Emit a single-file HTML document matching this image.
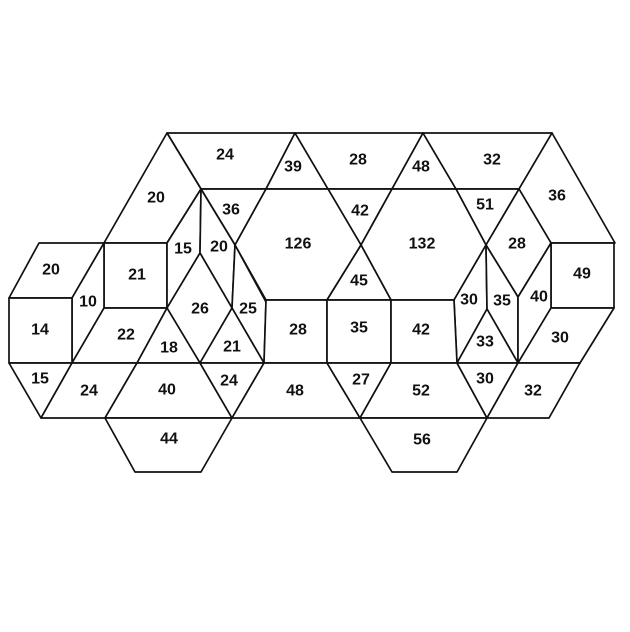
<!DOCTYPE html>
<html><head><meta charset="utf-8"><style>
html,body{margin:0;padding:0;background:#fff;width:630px;height:632px;overflow:hidden}
svg{display:block}
text{font-family:"Liberation Sans",sans-serif;font-weight:bold;font-size:16px;fill:#111;text-anchor:middle;dominant-baseline:central}
</style></head><body>
<svg id="fig" width="630" height="632" viewBox="0 0 630 632"></svg>
<script>
const shapes = [
 ["24",[[167,133],[295,133],[266,189],[201,189]],[225,155]],
 ["39",[[295,133],[328,189],[266,189]],[293,167]],
 ["28",[[295,133],[423,133],[392,189],[328,189]],[358,160]],
 ["48",[[423,133],[456,189],[392,189]],[421,167]],
 ["32",[[423,133],[552,133],[519,189],[456,189]],[492,160]],
 ["20",[[167,133],[201,189],[167,243],[104,243]],[156,198]],
 ["36",[[201,189],[266,189],[235,245]],[231,210]],
 ["42",[[328,189],[392,189],[361,245]],[360,211]],
 ["51",[[456,189],[519,189],[486,245]],[485,205]],
 ["36",[[552,133],[615,243],[551,243],[519,189]],[557,196]],
 ["20",[[39,243],[104,243],[72,298],[9,298]],[51,270]],
 ["21",[[104,243],[167,243],[167,308],[104,308]],[137,275]],
 ["15",[[167,243],[201,189],[200,253],[167,308]],[183,249]],
 ["20",[[201,189],[235,245],[232,308],[200,253]],[219,247]],
 ["126",[[266,189],[328,189],[361,245],[327,300],[266,300],[235,245]],[298,244]],
 ["132",[[392,189],[456,189],[486,245],[454,300],[391,300],[361,245]],[422,244]],
 ["28",[[486,245],[519,189],[551,243],[518,297]],[517,244]],
 ["49",[[551,243],[614,243],[614,308],[551,308]],[582,274]],
 ["10",[[72,298],[104,243],[104,308],[72,363]],[88,302]],
 ["26",[[200,253],[232,308],[200,363],[167,308]],[200,309]],
 ["25",[[235,245],[266,302],[264,363],[232,308]],[248,309]],
 ["45",[[361,245],[391,300],[327,300]],[359,281]],
 ["30",[[486,245],[487,309],[457,363],[454,300]],[469,300]],
 ["35",[[486,245],[518,297],[518,363],[487,309]],[502,301]],
 ["40",[[551,243],[551,308],[518,363],[518,297]],[539,297]],
 ["14",[[9,298],[72,298],[72,363],[9,363]],[40,330]],
 ["22",[[104,308],[167,308],[137,363],[72,363]],[126,335]],
 ["18",[[167,308],[200,363],[137,363]],[169,348]],
 ["21",[[232,308],[264,363],[200,363]],[232,347]],
 ["28",[[266,300],[327,300],[327,363],[264,363]],[298,330]],
 ["35",[[327,300],[391,300],[391,363],[327,363]],[359,328]],
 ["42",[[391,300],[454,300],[457,363],[391,363]],[421,330]],
 ["33",[[487,309],[518,363],[457,363]],[485,342]],
 ["30",[[551,308],[614,308],[580,363],[518,363]],[560,338]],
 ["15",[[9,363],[72,363],[41,418]],[40,379]],
 ["24",[[72,363],[137,363],[105,418],[41,418]],[89,391]],
 ["40",[[137,363],[200,363],[232,418],[105,418]],[167,390]],
 ["24",[[200,363],[264,363],[232,418]],[229,381]],
 ["48",[[264,363],[327,363],[360,418],[232,418]],[295,391]],
 ["27",[[327,363],[391,363],[360,418]],[361,380]],
 ["52",[[391,363],[457,363],[487,418],[360,418]],[421,391]],
 ["30",[[457,363],[518,363],[487,418]],[485,379]],
 ["32",[[518,363],[580,363],[549,418],[487,418]],[533,391]],
 ["44",[[105,418],[232,418],[201,472],[135,472]],[169,439]],
 ["56",[[360,418],[487,418],[457,472],[392,472]],[422,440]]
];
const svg=document.getElementById('fig');
const NS='http://www.w3.org/2000/svg';
shapes.forEach((s,i)=>{
 const p=document.createElementNS(NS,'polygon');
 p.setAttribute('points',s[1].map(q=>q.join(',')).join(' '));
 p.setAttribute('fill','#fff');p.setAttribute('stroke','#111');
 p.setAttribute('stroke-width','1.7');p.setAttribute('stroke-linejoin','round');
 
 
 svg.appendChild(p);
});
shapes.forEach((s,i)=>{
 const t=document.createElementNS(NS,'text');
 t.setAttribute('x',s[2][0]);t.setAttribute('y',s[2][1]);
 t.textContent=s[0];
 
 
 svg.appendChild(t);
});
</script>
</body></html>
